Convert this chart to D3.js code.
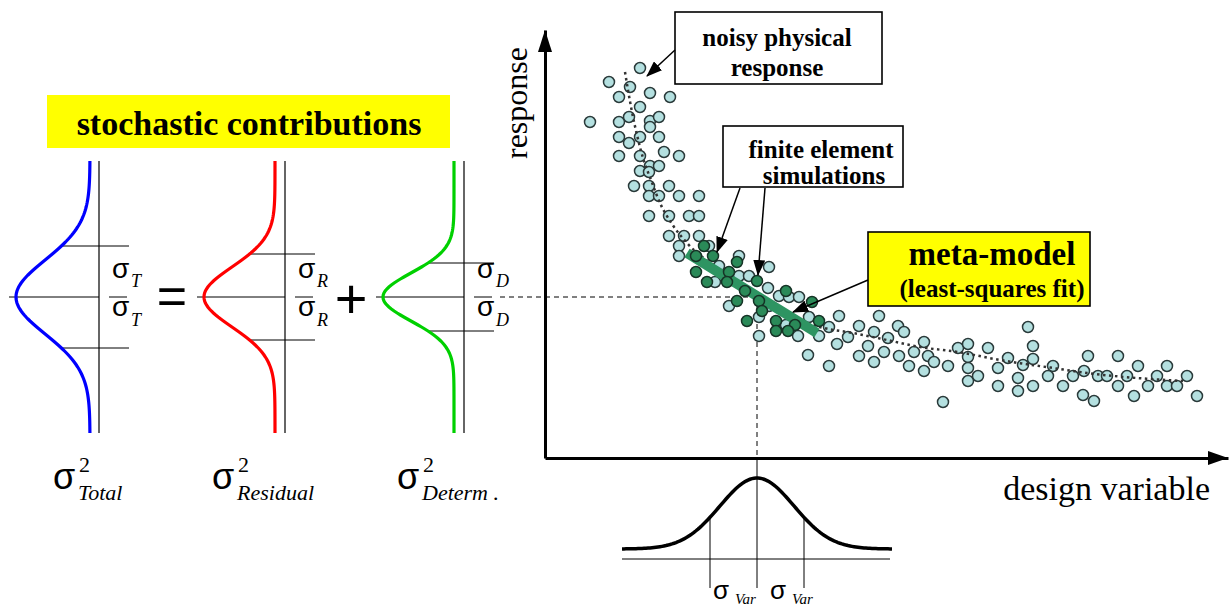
<!DOCTYPE html>
<html>
<head>
<meta charset="utf-8">
<script src="https://cdn.jsdelivr.net/npm/d3@7"></script>
<style>
body { margin: 0; background: #fff; }
svg { display: block; }
</style>
</head>
<body>
<svg width="1231" height="608"></svg>
<script>
// noisy physical response (design variable, response)
var physX = [9.5, 6.4, 8.5, 10.5, 12.5, 7.4, 9.5, 4.5, 7.4, 8.4, 10.5, 11.4, 10.5, 7.4, 9.5, 11.4, 8.4, 11.9, 7.4, 9.5,
  13.4, 10.5, 11.4, 9.5, 10.4, 8.9, 10.4, 12.4, 10.4, 11.4, 13.4, 15.4, 10.4, 12.4, 14.4, 15.4, 12.4, 13.9, 15.4, 13.4,
  16.4, 13.4, 19.4, 22.4, 17.4, 19.4, 20.4, 17.0, 22.3, 23.4, 24.4, 25.4, 18.4, 22.4, 21.4, 24.1, 26.4, 28.4, 29.4, 25.3,
  27.4, 21.4, 29.2, 30.3, 31.4, 33.4, 32.3, 34.3, 35.3, 35.9, 26.3, 28.4, 31.4, 32.9, 32.9, 33.9, 35.4, 36.9, 37.9, 38.3,
  36.4, 37.9, 38.9, 40.3, 39.8, 41.3, 42.3, 42.3, 42.3, 42.3, 43.3, 44.3, 45.3, 45.3, 46.3, 47.3, 47.3, 47.8, 48.3, 48.8,
  48.8, 48.8, 50.3, 50.8, 51.8, 52.8, 53.8, 53.9, 54.3, 54.9, 55.3, 56.2, 57.3, 57.3, 58.2, 58.9, 59.3, 60.3, 61.2, 62.2,
  62.2, 63.2, 64.2, 65.2];
var physY = [39.0, 37.6, 37.1, 36.5, 36.1, 36.1, 35.1, 33.6, 33.6, 34.1, 33.7, 34.1, 33.1, 32.1, 32.1, 32.1, 31.5, 30.6, 30.2, 30.2,
  30.2, 29.2, 29.2, 28.7, 28.6, 27.2, 27.2, 27.2, 26.2, 26.2, 26.2, 26.2, 24.2, 24.2, 24.2, 24.2, 22.2, 22.2, 22.2, 21.2,
  21.2, 20.2, 20.2, 19.1, 19.2, 18.2, 18.2, 17.6, 17.0, 16.2, 16.1, 16.1, 15.2, 15.2, 14.1, 13.3, 14.1, 13.1, 14.2, 12.2,
  12.2, 12.2, 11.4, 12.1, 13.2, 14.2, 11.2, 12.0, 13.2, 12.6, 10.3, 9.2, 10.2, 9.6, 12.6, 10.6, 10.2, 10.6, 11.6, 10.2,
  9.2, 8.7, 9.6, 9.2, 5.6, 11.0, 11.4, 10.1, 9.0, 7.7, 8.2, 11.0, 9.0, 7.2, 10.0, 8.0, 6.7, 9.3, 13.1, 11.2,
  9.9, 7.2, 8.2, 9.2, 7.2, 8.2, 6.3, 8.7, 10.2, 5.7, 8.2, 8.2, 10.2, 7.2, 8.2, 6.2, 9.2, 7.2, 8.2, 9.2,
  7.2, 7.2, 8.2, 6.2];

// finite element simulations
var simX = [15.9, 15.1, 16.8, 19.2, 18.4, 15.1, 21.2, 16.2, 18.2, 20.0, 24.1, 26.7, 19.2, 21.4, 21.7, 20.2, 23.1, 25.0, 27.4, 23.1, 24.3];
var simY = [21.2, 20.2, 20.2, 19.6, 18.6, 18.6, 17.7, 17.6, 17.6, 16.7, 16.7, 15.6, 15.7, 15.7, 14.7, 13.7, 13.7, 13.3, 13.7, 12.7, 12.7];

// underlying true response (dotted)
var trueX = [8.0, 8.3, 8.7, 9.2, 9.8, 10.6, 11.5, 12.7, 14.2, 17.5, 21.5, 27.5, 30.8, 34.2, 37.5, 41.3, 45.5, 50.8, 54.2, 63.8];
var trueY = [38.6, 36.8, 34.6, 32.3, 30.0, 27.8, 25.5, 23.4, 21.5, 18.8, 16.0, 13.1, 12.5, 11.8, 11.1, 10.6, 9.8, 9.0, 8.5, 7.7];

// meta-model (least-squares fit) segment
var fitX = [14.2, 27.2];
var fitY = [20.5, 12.5];

// design point and its predicted response
var predX = 21.2;
var predY = 16.1;

// stochastic contributions (response units)
var compNames = ["T", "R", "D"];
var compLabels = ["Total", "Residual", "Determ ."];
var compSigma = [5.1, 4.3, 3.4];
var compWidth = [3.7, 3.0, 2.4];
var compColors = ["#0000ff", "#ff0000", "#00d000"];

// design variable scatter (design units)
var varSigma = 4.7;
var varWidth = 3.7;

var svg = d3.select("svg");

var x = d3.scaleLinear().domain([0, 68.3]).range([545, 1228]);
var y = d3.scaleLinear().domain([0, 42.8]).range([458, 30]);

var serif = "'Liberation Serif', 'Times New Roman', serif";
var sans = "'Liberation Sans', Arial, sans-serif";

svg.append("defs").append("marker")
  .attr("id", "arr")
  .attr("markerUnits", "userSpaceOnUse")
  .attr("markerWidth", 16).attr("markerHeight", 12)
  .attr("refX", 15).attr("refY", 6)
  .attr("orient", "auto")
  .append("path")
  .attr("d", "M0,0L16,6L0,12Z")
  .attr("fill", "#000");

// ---- left: stochastic contributions ----
svg.append("rect")
  .attr("x", 47).attr("y", 95).attr("width", 403).attr("height", 53)
  .attr("fill", "#ffff00");
svg.append("text")
  .attr("x", 249).attr("y", 135)
  .attr("text-anchor", "middle")
  .style("font-family", serif).style("font-weight", "bold").style("font-size", "34px")
  .text("stochastic contributions");

var panelBase = [90, 275, 454];
var panelAxis = [99, 285, 464];
var panelAmp = [74, 71, 71];
var ext = 13.6;
var ds = d3.range(-ext, ext + 0.01, 0.2);
var yc = y(predY);

compWidth.forEach(function(s, i) {
  var dens = d3.scaleLinear().domain([0, 1]).range([panelBase[i], panelBase[i] - panelAmp[i]]);
  var f = function(d) { return dens(Math.exp(-d * d / (2 * s * s))); };
  var g = svg.append("g");

  g.append("line")
    .attr("x1", panelAxis[i]).attr("x2", panelAxis[i])
    .attr("y1", y(predY + ext)).attr("y2", y(predY - ext))
    .attr("stroke", "#666").attr("stroke-width", 2);

  [-1, 1].forEach(function(k) {
    var d = k * compSigma[i];
    g.append("line")
      .attr("x1", f(d)).attr("x2", panelAxis[i] + 30)
      .attr("y1", y(predY + d)).attr("y2", y(predY + d))
      .attr("stroke", "#000").attr("stroke-width", 1);
  });
  g.append("line")
    .attr("x1", dens(1) - 7).attr("x2", panelAxis[i])
    .attr("y1", yc).attr("y2", yc)
    .attr("stroke", "#000").attr("stroke-width", 1);
  g.append("line")
    .attr("x1", panelAxis[i] + 10).attr("x2", panelAxis[i] + 28)
    .attr("y1", yc).attr("y2", yc)
    .attr("stroke", "#000").attr("stroke-width", 1);

  g.append("path")
    .datum(ds)
    .attr("d", d3.line().x(f).y(function(d) { return y(predY + d); }))
    .attr("fill", "none")
    .attr("stroke", compColors[i])
    .attr("stroke-width", 3.2);

  [[-19, -10], [19, 29]].forEach(function(o) {
    g.append("text")
      .attr("x", panelAxis[i] + 13).attr("y", yc + o[0])
      .style("font-family", sans).style("font-size", "28px")
      .text("σ");
    g.append("text")
      .attr("x", panelAxis[i] + 32).attr("y", yc + o[1])
      .style("font-family", serif).style("font-style", "italic").style("font-size", "18px")
      .text(compNames[i]);
  });

  var lx = [53, 212, 397][i];
  g.append("text")
    .attr("x", lx).attr("y", 489)
    .style("font-family", sans).style("font-size", "36px")
    .text("σ");
  g.append("text")
    .attr("x", lx + 26).attr("y", 472)
    .style("font-family", serif).style("font-size", "22px")
    .text("2");
  g.append("text")
    .attr("x", lx + 25).attr("y", 500)
    .style("font-family", serif).style("font-style", "italic").style("font-size", "22px")
    .text(compLabels[i]);
});

svg.append("text")
  .attr("x", 172).attr("y", 314)
  .attr("text-anchor", "middle")
  .style("font-family", sans).style("font-size", "52px")
  .text("=");
svg.append("text")
  .attr("x", 351).attr("y", 318)
  .attr("text-anchor", "middle")
  .style("font-family", sans).style("font-size", "56px")
  .text("+");

// ---- right: response vs design variable ----
// guide from prediction to the contributions and down to the design variable
svg.append("line")
  .attr("x1", 500).attr("x2", x(predX))
  .attr("y1", y(predY)).attr("y2", y(predY))
  .attr("stroke", "#000").attr("stroke-dasharray", "5,4");
svg.append("line")
  .attr("x1", x(predX)).attr("x2", x(predX))
  .attr("y1", y(predY)).attr("y2", y(0))
  .attr("stroke", "#000").attr("stroke-dasharray", "5,4");

svg.append("g")
  .attr("transform", "translate(0," + y(0) + ")")
  .call(d3.axisBottom(x).tickValues([]).tickSizeOuter(0));
svg.append("g")
  .attr("transform", "translate(" + x(0) + ",0)")
  .call(d3.axisLeft(y).tickValues([]).tickSizeOuter(0));
svg.selectAll(".domain").attr("stroke", "#000").attr("stroke-width", 3);

var xr = x.range(), yr = y.range();
svg.append("path")
  .attr("d", "M" + xr[1] + "," + yr[0] + "L" + (xr[1] - 20) + "," + (yr[0] - 7) + "L" + (xr[1] - 20) + "," + (yr[0] + 7) + "Z")
  .attr("fill", "#000");
svg.append("path")
  .attr("d", "M" + xr[0] + "," + yr[1] + "L" + (xr[0] - 7) + "," + (yr[1] + 22) + "L" + (xr[0] + 7) + "," + (yr[1] + 22) + "Z")
  .attr("fill", "#000");

svg.append("text")
  .attr("transform", "translate(527,103) rotate(-90)")
  .attr("text-anchor", "middle")
  .style("font-family", serif).style("font-size", "32px")
  .text("response");
svg.append("text")
  .attr("x", 1210).attr("y", 500)
  .attr("text-anchor", "end")
  .style("font-family", serif).style("font-size", "34px")
  .text("design variable");

var phys = physX.map(function(v, i) { return [v, physY[i]]; });
svg.append("g").selectAll("circle")
  .data(phys).enter().append("circle")
  .attr("cx", function(d) { return x(d[0]); })
  .attr("cy", function(d) { return y(d[1]); })
  .attr("r", 5.5)
  .attr("fill", "#b4e0e0")
  .attr("stroke", "#2a3a3a")
  .attr("stroke-width", 1.5);

svg.append("path")
  .datum(trueX.map(function(v, i) { return [v, trueY[i]]; }))
  .attr("d", d3.line().x(function(d) { return x(d[0]); }).y(function(d) { return y(d[1]); }).curve(d3.curveMonotoneX))
  .attr("fill", "none")
  .attr("stroke", "#333")
  .attr("stroke-width", 2.5)
  .attr("stroke-dasharray", "2.5,3.5");

svg.append("line")
  .attr("x1", x(fitX[0])).attr("y1", y(fitY[0]))
  .attr("x2", x(fitX[1])).attr("y2", y(fitY[1]))
  .attr("stroke", "#2e9462")
  .attr("stroke-width", 10);

var sim = simX.map(function(v, i) { return [v, simY[i]]; });
svg.append("g").selectAll("circle")
  .data(sim).enter().append("circle")
  .attr("cx", function(d) { return x(d[0]); })
  .attr("cy", function(d) { return y(d[1]); })
  .attr("r", 5.5)
  .attr("fill", "#2a8a58")
  .attr("stroke", "#163326")
  .attr("stroke-width", 1.5);

// ---- design variable distribution ----
var bx = d3.range(-13.5, 13.51, 0.2);
var bDens = d3.scaleLinear().domain([0, 1]).range([549, 478]);
var bf = function(d) { return bDens(Math.exp(-d * d / (2 * varWidth * varWidth))); };
svg.append("line")
  .attr("x1", x(predX - 13.5)).attr("x2", x(predX + 13.3))
  .attr("y1", 559).attr("y2", 559)
  .attr("stroke", "#000").attr("stroke-width", 1);
svg.append("line")
  .attr("x1", x(predX)).attr("x2", x(predX))
  .attr("y1", y(0)).attr("y2", 588)
  .attr("stroke", "#000").attr("stroke-width", 1);
[-1, 1].forEach(function(k) {
  svg.append("line")
    .attr("x1", x(predX + k * varSigma)).attr("x2", x(predX + k * varSigma))
    .attr("y1", bf(k * varSigma)).attr("y2", 588)
    .attr("stroke", "#000").attr("stroke-width", 1);
});
svg.append("path")
  .datum(bx)
  .attr("d", d3.line().x(function(d) { return x(predX + d); }).y(bf))
  .attr("fill", "none")
  .attr("stroke", "#000")
  .attr("stroke-width", 3.5);
[x(predX - varSigma) + 3, x(predX) + 13].forEach(function(px) {
  svg.append("text")
    .attr("x", px).attr("y", 599)
    .style("font-family", sans).style("font-size", "26px")
    .text("σ");
  svg.append("text")
    .attr("x", px + 22).attr("y", 604)
    .style("font-family", serif).style("font-style", "italic").style("font-size", "15px")
    .text("Var");
});

// ---- callouts ----
function callout(bx, by, bw, bh, fill, lines, arrows) {
  var g = svg.append("g");
  g.append("rect")
    .attr("x", bx).attr("y", by).attr("width", bw).attr("height", bh)
    .attr("fill", fill).attr("stroke", "#000").attr("stroke-width", 1.6);
  lines.forEach(function(l) {
    g.append("text")
      .attr("x", l[0]).attr("y", l[1])
      .attr("text-anchor", "middle")
      .style("font-family", serif).style("font-weight", "bold").style("font-size", l[2] + "px")
      .text(l[3]);
  });
  arrows.forEach(function(a) {
    g.append("line")
      .attr("x1", a[0]).attr("y1", a[1]).attr("x2", a[2]).attr("y2", a[3])
      .attr("stroke", "#000").attr("stroke-width", 1.5)
      .attr("marker-end", "url(#arr)");
  });
}
callout(675, 12, 207, 72, "#fff",
  [[777, 46, 25, "noisy physical"], [777, 76, 25, "response"]],
  [[675, 50, 647, 76]]);
callout(723, 126, 180, 61, "#fff",
  [[821, 158, 25, "finite element"], [824, 184, 25, "simulations"]],
  [[740, 188, 717, 252], [765, 188, 758, 275]]);
callout(868, 232, 222, 74, "#ffff00",
  [[992, 265, 33, "meta-model"], [992, 297, 25, "(least-squares fit)"]],
  [[868, 280, 793, 312]]);
</script>
</body>
</html>
